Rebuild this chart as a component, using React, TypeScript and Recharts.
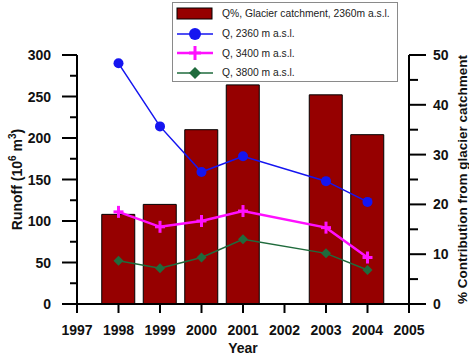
import {
  ComposedChart,
  Bar,
  Line,
  XAxis,
  YAxis,
  Legend,
  Label,
} from 'recharts';

const years = [1998, 1999, 2000, 2001, 2003, 2004];
const glacierShare = [18, 20, 35, 44, 42, 34]; // % of runoff from glacier catchment
const q2360 = [290, 214, 159, 178, 148, 123];
const q3400 = [111, 93, 100, 112, 92, 56];
const q3800 = [52, 43, 56, 78, 61, 41];

const yearTicks = [1997, 1998, 1999, 2000, 2001, 2002, 2003, 2004, 2005];
const runoffTicks = [0, 25, 50, 75, 100, 125, 150, 175, 200, 225, 250, 275, 300];
const shareTicks = [0, 5, 10, 15, 20, 25, 30, 35, 40, 45, 50];

const BAR_RED = '#960000';
const BLUE = '#1515f0';
const PINK = '#ff10ff';
const GREEN = '#1f6b3c';
const FONT = '"Liberation Sans", Arial, sans-serif';

const data = years.map((year, i) => ({
  year,
  share: glacierShare[i],
  q2360: q2360[i],
  q3400: q3400[i],
  q3800: q3800[i],
}));

const LeftTick = ({ x, y, payload }: any) => {
  const major = payload.value % 50 === 0;
  return (
    <g>
      <line x1={x - (major ? 15 : 7)} y1={y} x2={x} y2={y} stroke="#000" strokeWidth={2} />
      {major && (
        <text x={x - 26} y={y} dy="0.36em" textAnchor="end" fontFamily={FONT} fontWeight="bold" fontSize={14} fill="#111">
          {payload.value}
        </text>
      )}
    </g>
  );
};

const RightTick = ({ x, y, payload }: any) => {
  const major = payload.value % 10 === 0;
  return (
    <g>
      <line x1={x} y1={y} x2={x + (major ? 17 : 9)} y2={y} stroke="#000" strokeWidth={2} />
      {major && (
        <text x={x + 24} y={y} dy="0.36em" textAnchor="start" fontFamily={FONT} fontWeight="bold" fontSize={14} fill="#111">
          {payload.value}
        </text>
      )}
    </g>
  );
};

const YearTick = ({ x, y, payload }: any) => (
  <g>
    <line x1={x} y1={y} x2={x} y2={y + 9} stroke="#000" strokeWidth={2} />
    <text x={x} y={y + 26} dy="0.36em" textAnchor="middle" fontFamily={FONT} fontWeight="bold" fontSize={14} fill="#111">
      {payload.value}
    </text>
  </g>
);

const PlusDot = ({ cx, cy }: any) => (
  <g stroke={PINK} strokeWidth={3}>
    <line x1={cx - 5} y1={cy} x2={cx + 5} y2={cy} />
    <line x1={cx} y1={cy - 6} x2={cx} y2={cy + 6} />
  </g>
);

const DiamondDot = ({ cx, cy }: any) => (
  <path d={`M${cx},${cy - 5}L${cx + 5},${cy}L${cx},${cy + 5}L${cx - 5},${cy}Z`} fill={GREEN} />
);

const RoundDot = ({ cx, cy }: any) => <circle cx={cx} cy={cy} r={5} fill={BLUE} />;

const RunoffTitle = ({ viewBox }: any) => {
  const cx = viewBox.x + 17;
  const cy = viewBox.y + viewBox.height / 2;
  return (
    <text
      transform={`translate(${cx},${cy}) rotate(-90)`}
      textAnchor="middle"
      dy="0.36em"
      fontFamily={FONT}
      fontWeight="bold"
      fontSize={14}
      fill="#111"
    >
      Runoff (10
      <tspan fontSize={10} dy={-6}>6</tspan>
      <tspan dy={6}> m</tspan>
      <tspan fontSize={10} dy={-6}>3</tspan>
      <tspan dy={6}>)</tspan>
    </text>
  );
};

const ShareTitle = ({ viewBox }: any) => {
  const cx = viewBox.x + 53;
  const cy = viewBox.y + viewBox.height / 2;
  return (
    <text
      transform={`translate(${cx},${cy}) rotate(-90)`}
      textAnchor="middle"
      dy="0.36em"
      fontFamily={FONT}
      fontWeight="bold"
      fontSize={13.5}
      fill="#111"
    >
      % Contribution from glacier catchment
    </text>
  );
};

const legendItems = [
  { key: 'share', label: 'Q%, Glacier catchment, 2360m a.s.l.' },
  { key: 'q2360', label: 'Q, 2360 m a.s.l.' },
  { key: 'q3400', label: 'Q, 3400 m a.s.l.' },
  { key: 'q3800', label: 'Q, 3800 m a.s.l.' },
];

const legendIcon = (key: string) => {
  if (key === 'share') {
    return <rect x={2} y={4} width={35} height={11} fill={BAR_RED} stroke="#000" strokeWidth={1} />;
  }
  const color = key === 'q2360' ? BLUE : key === 'q3400' ? PINK : GREEN;
  return (
    <g>
      <line x1={2} y1={10} x2={38} y2={10} stroke={color} strokeWidth={key === 'q3400' ? 2.5 : 1.5} />
      {key === 'q2360' && <circle cx={20} cy={10} r={6} fill={BLUE} />}
      {key === 'q3400' && (
        <g stroke={PINK} strokeWidth={3}>
          <line x1={14} y1={10} x2={26} y2={10} />
          <line x1={20} y1={3} x2={20} y2={17} />
        </g>
      )}
      {key === 'q3800' && <path d="M20,4L26,10L20,16L14,10Z" fill={GREEN} />}
    </g>
  );
};

const renderLegend = () => (
  <div
    style={{
      border: '1px solid #8a8a8a',
      background: '#fff',
      width: 226,
      height: 80,
      boxSizing: 'border-box',
      padding: '1px 0 0 2px',
    }}
  >
    {legendItems.map((item) => (
      <div key={item.key} style={{ display: 'flex', alignItems: 'center', height: 19.7 }}>
        <svg width={40} height={20} style={{ display: 'block' }}>
          {legendIcon(item.key)}
        </svg>
        <span style={{ fontFamily: FONT, fontSize: 10.3, color: '#222', marginLeft: 7, whiteSpace: 'nowrap' }}>
          {item.label}
        </span>
      </div>
    ))}
  </div>
);

export default function App() {
  return (
    <div style={{ position: 'absolute', left: 0, top: 0, background: '#fff' }}>
      <ComposedChart
        width={469}
        height={358}
        data={data}
        margin={{ top: 55, right: 0, bottom: 0, left: 0 }}
      >
        <XAxis
          dataKey="year"
          type="number"
          domain={[1997, 2005]}
          ticks={yearTicks}
          interval={0}
          height={54}
          tickSize={0}
          tickMargin={0}
          tick={<YearTick />}
          stroke="#000"
          strokeWidth={2}
        >
          <Label
            value="Year"
            position="insideBottom"
            offset={5}
            style={{ fontFamily: FONT, fontWeight: 'bold', fontSize: 14, fill: '#111' }}
          />
        </XAxis>
        <YAxis
          yAxisId="left"
          orientation="left"
          width={77}
          domain={[0, 300]}
          ticks={runoffTicks}
          interval={0}
          tickSize={0}
          tickMargin={0}
          tick={<LeftTick />}
          stroke="#000"
          strokeWidth={2}
        >
          <Label content={<RunoffTitle />} />
        </YAxis>
        <YAxis
          yAxisId="right"
          orientation="right"
          width={60}
          domain={[0, 50]}
          ticks={shareTicks}
          interval={0}
          tickSize={0}
          tickMargin={0}
          tick={<RightTick />}
          stroke="#000"
          strokeWidth={2}
        >
          <Label content={<ShareTitle />} />
        </YAxis>
        <Legend
          layout="vertical"
          align="center"
          verticalAlign="middle"
          content={renderLegend}
          wrapperStyle={{ left: 172, top: 2, width: 226, height: 80 }}
        />
        <Bar
          yAxisId="right"
          dataKey="share"
          name="Q%, Glacier catchment, 2360m a.s.l."
          fill={BAR_RED}
          stroke="#000"
          strokeWidth={1}
          barSize={33}
          isAnimationActive={false}
        />
        <Line
          yAxisId="left"
          dataKey="q2360"
          name="Q, 2360 m a.s.l."
          stroke={BLUE}
          strokeWidth={1.5}
          dot={<RoundDot />}
          isAnimationActive={false}
        />
        <Line
          yAxisId="left"
          dataKey="q3400"
          name="Q, 3400 m a.s.l."
          stroke={PINK}
          strokeWidth={2.5}
          dot={<PlusDot />}
          isAnimationActive={false}
        />
        <Line
          yAxisId="left"
          dataKey="q3800"
          name="Q, 3800 m a.s.l."
          stroke={GREEN}
          strokeWidth={1.5}
          dot={<DiamondDot />}
          isAnimationActive={false}
        />
      </ComposedChart>
    </div>
  );
}
